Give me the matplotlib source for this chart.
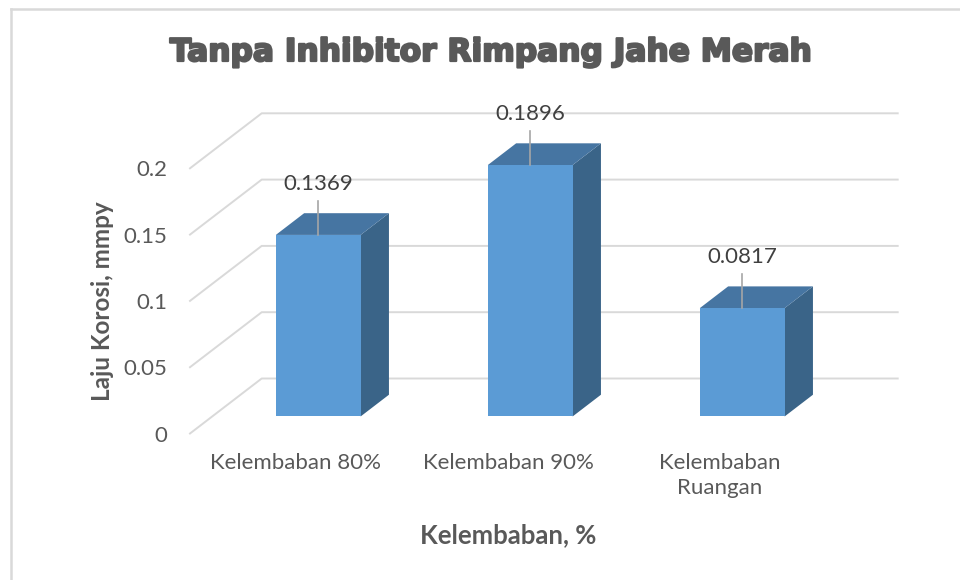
import matplotlib
matplotlib.use('Agg')
import matplotlib.pyplot as plt
from matplotlib.patches import Polygon
from matplotlib.lines import Line2D
import matplotlib.patheffects as pe

categories = ['Kelembaban 80%', 'Kelembaban 90%', 'Kelembaban\nRuangan']
values = [0.1369, 0.1896, 0.0817]
value_labels = ['0.1369', '0.1896', '0.0817']
yticks = [0, 0.05, 0.1, 0.15, 0.2]
ytick_labels = ['0', '0.05', '0.1', '0.15', '0.2']
title = 'Tanpa Inhibitor Rimpang Jahe Merah'
xlabel = 'Kelembaban, %'
ylabel = 'Laju Korosi, mmpy'

W, H = 960, 580
fig = plt.figure(figsize=(W / 100, H / 100), dpi=100)
fig.patch.set_facecolor('white')

# front plane of the 3D box
left_px, right_px, bot_px, top_px = 190, 826, 433.5, 168.3
ax = fig.add_axes([left_px / W, 1 - bot_px / H, (right_px - left_px) / W, (bot_px - top_px) / H])
ax.set_xlim(0, len(categories))
ax.set_ylim(0, 0.2)
for s in ax.spines.values():
    s.set_visible(False)
ax.patch.set_alpha(0)

# oblique depth vector (full depth) in data units
px_per_x = (right_px - left_px) / len(categories)
px_per_y = (bot_px - top_px) / 0.2
DX = 71.7 / px_per_x
DY = 55.0 / px_per_y


def proj(x, y, d):
    return (x + d * DX, y + d * DY)


grid_c = '#D9D9D9'
n = len(categories)
for t in yticks:
    p0 = proj(0, t, 0)
    p1 = proj(0, t, 1)
    p2 = proj(n, t, 1)
    ax.add_line(Line2D([p0[0], p1[0], p2[0]], [p0[1], p1[1], p2[1]],
                       color=grid_c, lw=1.4, clip_on=False, zorder=1))

front_c = '#5B9BD5'
top_c = '#4675A2'
side_c = '#3A6488'
d0, d1 = 0.31, 0.705
bw = 0.40
lead_px = 34
for i, (v, lab) in enumerate(zip(values, value_labels)):
    xc = i + 0.5
    x0, x1 = xc - bw / 2, xc + bw / 2
    side = [proj(x1, 0, d0), proj(x1, v, d0), proj(x1, v, d1), proj(x1, 0, d1)]
    top = [proj(x0, v, d0), proj(x1, v, d0), proj(x1, v, d1), proj(x0, v, d1)]
    front = [proj(x0, 0, d0), proj(x1, 0, d0), proj(x1, v, d0), proj(x0, v, d0)]
    ax.add_patch(Polygon(side, closed=True, facecolor=side_c, edgecolor='none', clip_on=False, zorder=3))
    ax.add_patch(Polygon(top, closed=True, facecolor=top_c, edgecolor='none', clip_on=False, zorder=3))
    ax.add_patch(Polygon(front, closed=True, facecolor=front_c, edgecolor='none', clip_on=False, zorder=4))
    fx, fy = proj(xc, v, d0)
    ly = fy + lead_px / px_per_y
    ax.add_line(Line2D([fx, fx], [fy, ly], color='#A6A6A6', lw=1.2, clip_on=False, zorder=5))
    ax.text(fx, ly + 17 / px_per_y, lab, ha='center', va='center', fontsize=16,
            color='#404040', family='Lato', zorder=6)

ax.set_yticks(yticks, ytick_labels)
ax.set_xticks([i + 0.5 for i in range(n)], categories)
ax.tick_params(axis='y', length=0, pad=16.5, labelsize=16, labelcolor='#595959')
ax.tick_params(axis='x', length=0, pad=14, labelsize=16, labelcolor='#595959')
for lbl in ax.get_xticklabels() + ax.get_yticklabels():
    lbl.set_family('Lato')
for lbl in ax.get_xticklabels():
    lbl.set_linespacing(1.3)

fig.text(103 / W, 1 - 301 / H, ylabel, rotation=90, ha='center', va='center',
         fontsize=17.5, fontweight='bold', color='#595959', family='Lato')
fig.text(508 / W, 1 - 535 / H, xlabel, ha='center', va='center',
         fontsize=18.5, fontweight='bold', color='#595959', family='Lato')
fig.text(491 / W, 1 - 61 / H, title, ha='center', va='baseline',
         fontsize=22.5, fontweight='bold', color='#595959', family='DejaVu Sans',
         path_effects=[pe.withStroke(linewidth=1.6, foreground='#595959')])

# chart border (left and top visible)
fig.add_artist(Line2D([11 / W, 11 / W], [0, 1 - 9 / H], color=grid_c, lw=1.8, transform=fig.transFigure))
fig.add_artist(Line2D([11 / W, 1], [1 - 9 / H, 1 - 9 / H], color=grid_c, lw=1.8, transform=fig.transFigure))

fig.savefig('out.png', dpi=100)
